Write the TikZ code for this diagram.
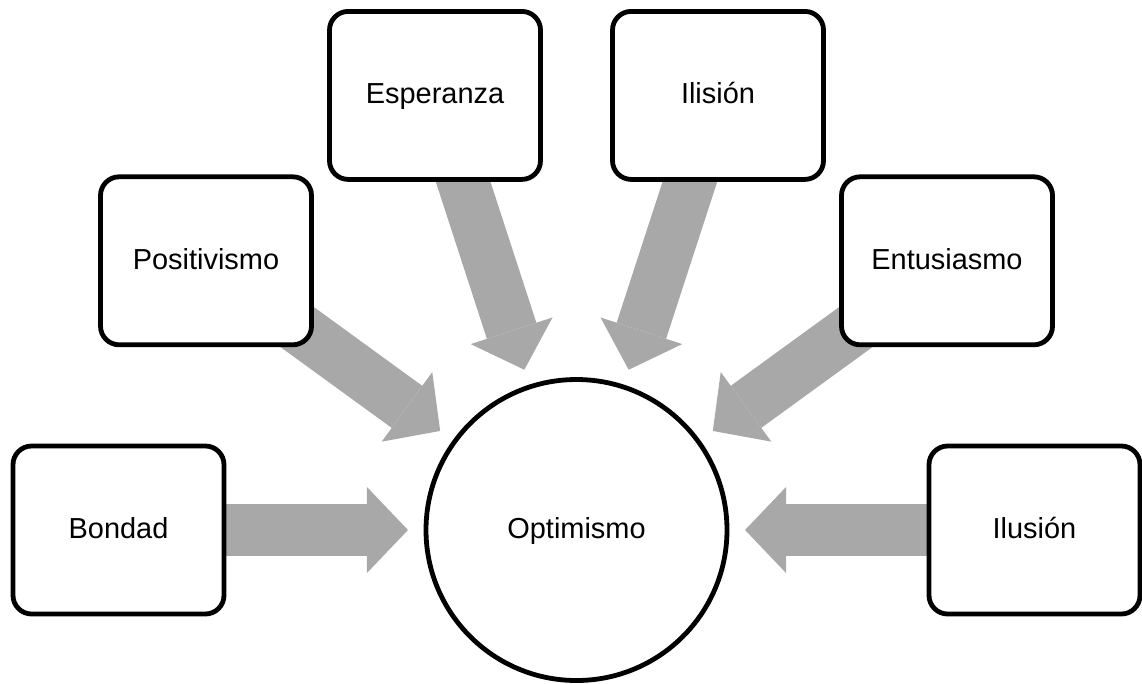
\documentclass[tikz,border=0pt]{standalone}
\usepackage{fontspec}
\setmainfont{Liberation Sans}
\usetikzlibrary{arrows.meta,calc,backgrounds}
\definecolor{arrowgray}{HTML}{A8A8A8}
\begin{document}
\begin{tikzpicture}[x=0.75pt,y=-0.75pt,
  labelfont/.style={font=\fontsize{21.7pt}{26pt}\selectfont},
  box/.style={draw=black, line width=3.6pt, fill=white, rounded corners=14pt,
    minimum width=158.25pt, minimum height=126pt, inner sep=0pt,
    text height=15.54pt, text depth=3pt, labelfont},
  hub/.style={circle, draw=black, line width=3.6pt, fill=white,
    minimum size=225.75pt, inner sep=0pt,
    text height=15.54pt, text depth=3pt, labelfont},
  feed/.style={draw=arrowgray, line width=39pt,
    -{Triangle[width=64.5pt,length=30.75pt,line width=0pt]}}]
\useasboundingbox (0,0) rectangle (1142,683);
\node[hub] (c) at (576.5,530) {Optimismo};
\node[box] (b1) at (118.5,530) {Bondad};
\node[box] (b2) at (206,260.8) {Positivismo};
\node[box] (b3) at (435,95.4) {Esperanza};
\node[box] (b4) at (718,95.4) {Ilisión};
\node[box] (b5) at (947,260.8) {Entusiasmo};
\node[box] (b6) at (1034.5,530) {Ilusión};
\begin{pgfonlayer}{background}
\foreach \n in {b1,b2,b3,b4,b5,b6}{
  \coordinate (t\n) at ($(c.center)!126.4pt!(\n.center)$);
  \draw[feed] (\n.center) -- (t\n);
}
\end{pgfonlayer}
\end{tikzpicture}
\end{document}
